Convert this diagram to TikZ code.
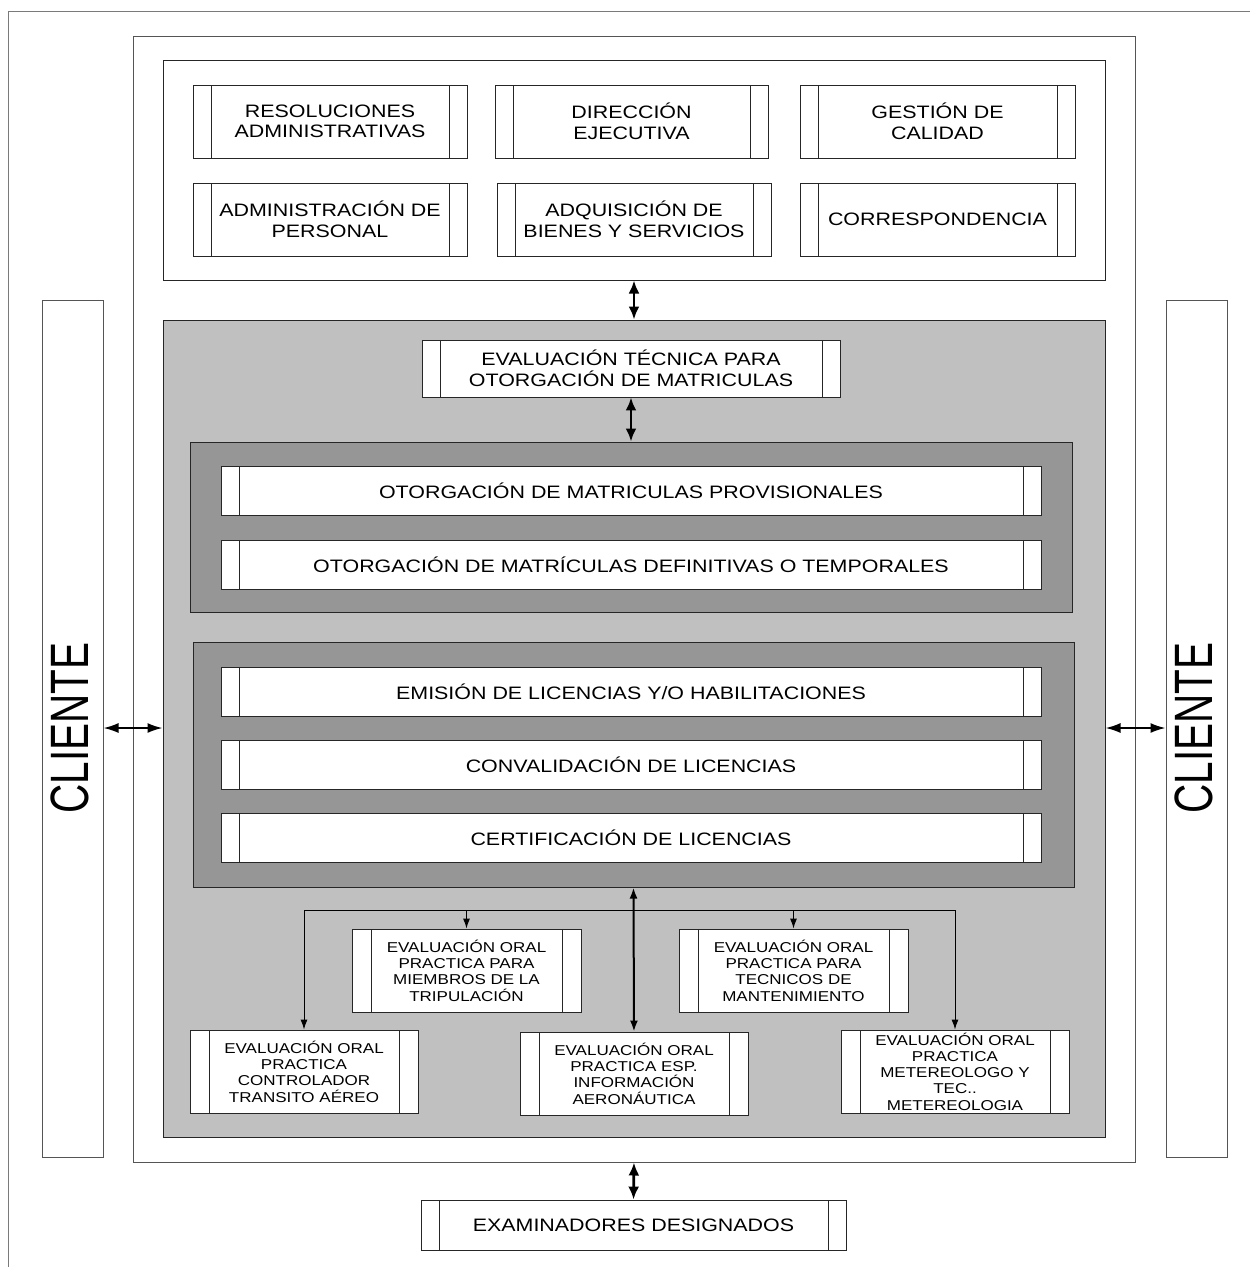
\documentclass[tikz,border=0pt]{standalone}
\usepackage{fontspec}
\setmainfont{Liberation Sans}[FakeStretch=1.19]
\newfontfamily\clifont{Liberation Sans}[FakeStretch=0.75]
\usetikzlibrary{arrows.meta}
\definecolor{panelgray}{HTML}{C0C0C0}
\definecolor{darkpanel}{HTML}{969696}
\definecolor{framegray}{HTML}{7A7A7A}
\definecolor{linegray}{HTML}{555555}
\begin{document}
\begin{tikzpicture}[x=1pt,y=-1pt,
  strip/.style={path picture={
    \draw[line width=0.9pt,black!85]
      ([xshift=#1]path picture bounding box.north west) -- ([xshift=#1]path picture bounding box.south west)
      ([xshift=-#1]path picture bounding box.north east) -- ([xshift=-#1]path picture bounding box.south east);}},
  pbox/.style={draw=black!85, fill=white, line width=0.9pt, inner sep=0pt, align=center,
    font=\fontsize{18}{20.5}\selectfont, strip=18pt},
  sbox/.style={pbox, font=\fontsize{14.3}{16.3}\selectfont, minimum width=228, minimum height=83, strip=19pt},
  panel/.style={draw=black!85, line width=1pt, inner sep=0pt},
  bigarr/.style={line width=2.8pt, {Latex[length=13pt,width=11pt]}-{Latex[length=13pt,width=11pt]}},
  cliarr/.style={line width=1.8pt, {Latex[length=15pt,width=10pt]}-{Latex[length=15pt,width=10pt]}},
  midarr/.style={line width=2pt, {Latex[length=11pt,width=8pt]}-{Latex[length=11pt,width=8pt]}},
  smallarr/.style={line width=1pt, -{Latex[length=10pt,width=7pt]}}
]
\useasboundingbox (0,0) rectangle (1250,1267);
% outer frame (only top and left visible)
\draw[framegray, line width=1pt] (8,1267) -- (8,11) -- (1250,11);

% main white box
\node[draw=linegray, line width=1pt, fill=white, minimum width=1002, minimum height=1126, inner sep=0pt] (main) at (634,599) {};

% top box
\node[panel, fill=white, minimum width=942, minimum height=220] (top) at (634,170) {};
\node[pbox, minimum width=274, minimum height=73] (res) at (330,121.5) {RESOLUCIONES\\ADMINISTRATIVAS};
\node[pbox, minimum width=273, minimum height=73] (dir) at (631.5,121.5) {DIRECCIÓN\\EJECUTIVA};
\node[pbox, minimum width=275, minimum height=73] (ges) at (937.5,121.5) {GESTIÓN DE\\CALIDAD};
\node[pbox, minimum width=274, minimum height=73] (adm) at (330,219.5) {ADMINISTRACIÓN DE\\PERSONAL};
\node[pbox, minimum width=274, minimum height=73] (adq) at (634,219.5) {ADQUISICIÓN DE\\BIENES Y SERVICIOS};
\node[pbox, minimum width=275, minimum height=73] (cor) at (937.5,219.5) {CORRESPONDENCIA};

% gray panel
\node[panel, fill=panelgray, minimum width=942, minimum height=817] (gray) at (634,728.5) {};
\node[pbox, minimum width=418, minimum height=57] (evt) at (631,368.5) {EVALUACIÓN TÉCNICA PARA\\OTORGACIÓN DE MATRICULAS};

% dark panel 1
\node[panel, fill=darkpanel, minimum width=882, minimum height=170] (dk1) at (631,527) {};
\node[pbox, minimum width=820, minimum height=49] (prov) at (631,490.5) {OTORGACIÓN DE MATRICULAS PROVISIONALES};
\node[pbox, minimum width=820, minimum height=49] (def) at (631,564.5) {OTORGACIÓN DE MATRÍCULAS DEFINITIVAS O TEMPORALES};

% dark panel 2
\node[panel, fill=darkpanel, minimum width=881, minimum height=245] (dk2) at (633.5,764.5) {};
\node[pbox, minimum width=820, minimum height=49] (emi) at (631,691.5) {EMISIÓN DE LICENCIAS Y/O HABILITACIONES};
\node[pbox, minimum width=820, minimum height=49] (con) at (631,764.5) {CONVALIDACIÓN DE LICENCIAS};
\node[pbox, minimum width=820, minimum height=49] (cer) at (631,837.5) {CERTIFICACIÓN DE LICENCIAS};

% small evaluation boxes
\node[sbox, minimum width=229] (miem) at (466.5,970.5) {EVALUACIÓN ORAL\\PRACTICA PARA\\MIEMBROS DE LA\\TRIPULACIÓN};
\node[sbox, minimum width=229] (tec) at (793.5,970.5) {EVALUACIÓN ORAL\\PRACTICA PARA\\TECNICOS DE\\MANTENIMIENTO};
\node[sbox] (ctrl) at (304,1071.5) {EVALUACIÓN ORAL\\PRACTICA\\CONTROLADOR\\TRANSITO AÉREO};
\node[sbox] (info) at (634,1073.5) {EVALUACIÓN ORAL\\PRACTICA ESP.\\INFORMACIÓN\\AERONÁUTICA};
\node[sbox] (met) at (955,1071.5) {EVALUACIÓN ORAL\\PRACTICA\\METEREOLOGO Y\\TEC..\\METEREOLOGIA};

% examinadores
\node[pbox, minimum width=425, minimum height=50] (exa) at (633.5,1225) {EXAMINADORES DESIGNADOS};

% cliente boxes
\node[draw=linegray, line width=1pt, fill=white, minimum width=61, minimum height=857, inner sep=0pt] (cliL) at (72.5,728.5) {};
\node[draw=linegray, line width=1pt, fill=white, minimum width=61, minimum height=857, inner sep=0pt] (cliR) at (1196.5,728.5) {};
\node[rotate=90, anchor=base, inner sep=0pt, font=\clifont\fontsize{54}{60}\selectfont] (cliLt) at (88,728) {CLIENTE};
\node[rotate=90, anchor=base, inner sep=0pt, font=\clifont\fontsize{54}{60}\selectfont] (cliRt) at (1212,728) {CLIENTE};

% connectors
\draw[bigarr] (top.south) -- (gray.north);
\draw[bigarr] (evt.south) -- (dk1.north);
\draw[bigarr] (main.south) -- (exa.north);
\draw[cliarr] (cliL.east |- 0,728) -- (gray.west |- 0,728);
\draw[cliarr] (gray.east |- 0,728) -- (cliR.west |- 0,728);

\coordinate (hl) at (304,910);
\coordinate (hr) at (955,910);
\draw[line width=1pt] (hl) -- (hr);
\draw[smallarr] (hl) -- (ctrl.north);
\draw[smallarr] (hr) -- (met.north);
\draw[smallarr] (miem.north |- hl) -- (miem.north);
\draw[smallarr] (tec.north |- hl) -- (tec.north);
\draw[midarr] (dk2.south) -- (info.north);
\end{tikzpicture}
\end{document}
